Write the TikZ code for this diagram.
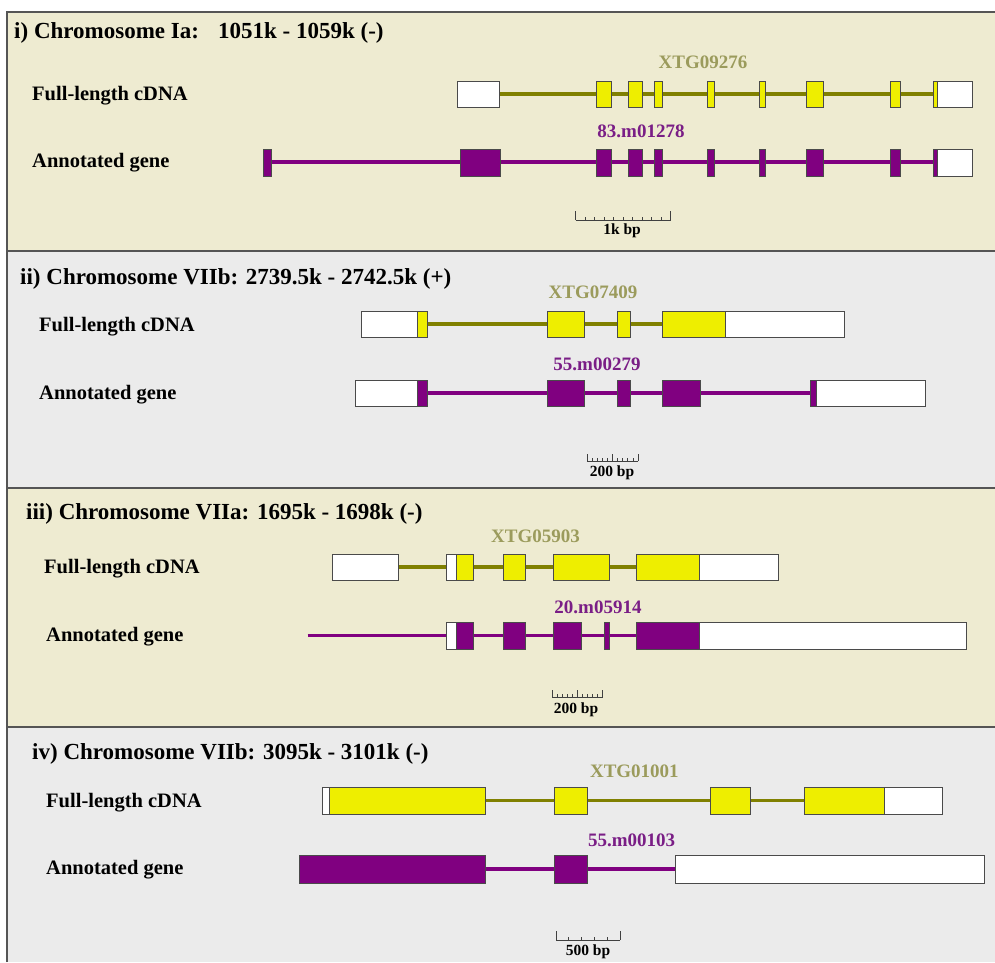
\documentclass[tikz,border=0pt]{standalone}
\usepackage{fontspec}
\setmainfont{Liberation Serif}
\usetikzlibrary{calc}
\definecolor{beigebg}{HTML}{EEEBD1}
\definecolor{graybg}{HTML}{EBEBEB}
\definecolor{exony}{HTML}{EEEE00}
\definecolor{exonp}{HTML}{800080}
\definecolor{olivel}{HTML}{808000}
\definecolor{purpl}{HTML}{800080}
\definecolor{olivetxt}{HTML}{9B9B5C}
\definecolor{purptxt}{HTML}{7A1E86}
\definecolor{framec}{HTML}{555555}
\definecolor{boxedge}{HTML}{4A4A4A}
\tikzset{
  title/.style={anchor=west,font=\bfseries\fontsize{23}{25}\selectfont,inner sep=0pt},
  rowlab/.style={anchor=west,font=\bfseries\fontsize{20.5}{23}\selectfont,inner sep=0pt},
  cdnaname/.style={font=\bfseries\fontsize{19}{21}\selectfont,text=olivetxt,inner sep=0pt},
  genename/.style={font=\bfseries\fontsize{19}{21}\selectfont,text=purptxt,inner sep=0pt},
  scalelab/.style={font=\bfseries\fontsize{15.5}{17}\selectfont,inner sep=0pt},
  cline/.style={draw=olivel,line width=3.4pt},
  aline/.style={draw=purpl,line width=3.4pt},
  yexon/.style={fill=exony,draw=boxedge,line width=0.9pt},
  pexon/.style={fill=exonp,draw=boxedge,line width=0.9pt},
  utr/.style={fill=white,draw=boxedge,line width=0.9pt},
  sbar/.style={draw=black!75,line width=0.8pt},
  divider/.style={draw=framec,line width=1.2pt}
}
\begin{document}
\begin{tikzpicture}[x=1pt,y=-1pt]
\useasboundingbox (0,0) rectangle (995,962);
% panels
\fill[beigebg] (7,12) rectangle (995,251);
\fill[graybg] (7,251) rectangle (995,488);
\fill[beigebg] (7,488) rectangle (995,727);
\fill[graybg] (7,727) rectangle (995,962);
\draw[divider] (7,962) -- (7,12) -- (995,12);
\draw[divider] (7,251) -- (995,251);
\draw[divider] (7,488) -- (995,488);
\draw[divider] (7,727) -- (995,727);

% ---------------- Panel i ----------------
\node[title] (t1) at (14,33) {i) Chromosome Ia:\hspace{0.5em} 1051k - 1059k (-)};
\node[rowlab] (c1lab) at (32,96) {Full-length cDNA};
\node[rowlab] (a1lab) at (32,163) {Annotated gene};
\node[cdnaname] (c1name) at (703,62) {XTG09276};
\node[genename] (a1name) at (641,131) {83.m01278};
\coordinate (c1s) at (499.6,94); \coordinate (c1e) at (937,94);
\draw[cline] (c1s) -- (c1e);
\draw[utr] (457.5,81) rectangle (499.6,107);
\foreach \a/\b in {596.8/611.9,628.4/642.4,654/662.7,707.3/714.6,759.2/765.5,806.9/823,890.7/900.5,933.9/937.4}
  \draw[yexon] (\a,81) rectangle (\b,107);
\draw[utr] (937.4,81) rectangle (972,107);
\coordinate (a1s) at (267,162); \coordinate (a1e) at (937,162);
\draw[aline] (a1s) -- (a1e);
\foreach \a/\b in {263/271,460/500,596.8/611.9,628.4/642.4,654/662.7,707.3/714.6,759.2/765.5,806.9/823,890.7/900.5,933.9/937.4}
  \draw[pexon] (\a,149) rectangle (\b,176);
\draw[utr] (937.4,149) rectangle (972,176);
% scale bar i
\coordinate (s1a) at (575.5,220); \coordinate (s1b) at (670.5,220);
\draw[sbar] (s1a) -- (s1b);
\draw[sbar] (s1a) -- ++(0,-9);
\draw[sbar] (s1b) -- ++(0,-9);
\foreach \i in {1,...,9} \draw[sbar] ($(s1a)!\i/10!(s1b)$) -- ++(0,-3);
\node[scalelab] (s1l) at (622,231) {1k bp};

% ---------------- Panel ii ----------------
\node[title] (t2) at (20,279) {ii) Chromosome VIIb: 2739.5k - 2742.5k (+)};
\node[rowlab] (c2lab) at (39,327) {Full-length cDNA};
\node[rowlab] (a2lab) at (39,395) {Annotated gene};
\node[cdnaname] (c2name) at (593,292) {XTG07409};
\node[genename] (a2name) at (597,364) {55.m00279};
\coordinate (c2s) at (427,324); \coordinate (c2e) at (663,324);
\draw[cline] (c2s) -- (c2e);
\draw[utr] (361.8,311) rectangle (417.7,337);
\foreach \a/\b in {417.7/427.3,547.4/584.9,617.8/630.9,662.6/725.4}
  \draw[yexon] (\a,311) rectangle (\b,337);
\draw[utr] (725.4,311) rectangle (844.4,337);
\coordinate (a2s) at (427,393); \coordinate (a2e) at (811,393);
\draw[aline] (a2s) -- (a2e);
\draw[utr] (355.3,380) rectangle (417.7,406);
\foreach \a/\b in {417.7/427.3,547.4/584.9,617.8/630.9,662.6/700.1,810/816.5}
  \draw[pexon] (\a,380) rectangle (\b,406);
\draw[utr] (816.5,380) rectangle (925.5,406);
% scale bar ii
\coordinate (s2a) at (587,461); \coordinate (s2b) at (638,461);
\draw[sbar] (s2a) -- (s2b);
\draw[sbar] (s2a) -- ++(0,-7);
\draw[sbar] (s2b) -- ++(0,-7);
\draw[sbar] ($(s2a)!0.5!(s2b)$) -- ++(0,-7);
\foreach \i in {1,2,3,4,6,7,8,9} \draw[sbar] ($(s2a)!\i/10!(s2b)$) -- ++(0,-3.5);
\node[scalelab] (s2l) at (612,473) {200 bp};

% ---------------- Panel iii ----------------
\node[title] (t3) at (26,514) {iii) Chromosome VIIa: 1695k - 1698k (-)};
\node[rowlab] (c3lab) at (44,569) {Full-length cDNA};
\node[rowlab] (a3lab) at (46,637) {Annotated gene};
\node[cdnaname] (c3name) at (535.5,536) {XTG05903};
\node[genename] (a3name) at (598,607) {20.m05914};
\coordinate (c3s) at (398,567); \coordinate (c3e) at (637,567);
\draw[cline] (c3s) -- (c3e);
\draw[utr] (332.7,554) rectangle (398.3,580);
\draw[utr] (446.7,554) rectangle (456.8,580);
\foreach \a/\b in {456.8/473.5,503.9/525.4,553.6/609.5,636.3/699.2}
  \draw[yexon] (\a,554) rectangle (\b,580);
\draw[utr] (699.2,554) rectangle (778.9,580);
\coordinate (a3s) at (307.6,635.5); \coordinate (a3e) at (637,635.5);
\draw[aline] (a3s) -- (a3e);
\draw[utr] (446.7,622) rectangle (456.8,649);
\foreach \a/\b in {456.8/473.5,503.9/525.4,553.6/581.3,604.2/609.5,636.3/699.2}
  \draw[pexon] (\a,622) rectangle (\b,649);
\draw[utr] (699.2,622) rectangle (966.8,649);
% scale bar iii
\coordinate (s3a) at (552.3,697); \coordinate (s3b) at (602.7,697);
\draw[sbar] (s3a) -- (s3b);
\draw[sbar] (s3a) -- ++(0,-7);
\draw[sbar] (s3b) -- ++(0,-7);
\draw[sbar] ($(s3a)!0.5!(s3b)$) -- ++(0,-7);
\foreach \i in {1,2,3,4,6,7,8,9} \draw[sbar] ($(s3a)!\i/10!(s3b)$) -- ++(0,-3.5);
\node[scalelab] (s3l) at (576,710) {200 bp};

% ---------------- Panel iv ----------------
\node[title] (t4) at (32,754) {iv) Chromosome VIIb: 3095k - 3101k (-)};
\node[rowlab] (c4lab) at (46,803) {Full-length cDNA};
\node[rowlab] (a4lab) at (46,870) {Annotated gene};
\node[cdnaname] (c4name) at (634.4,771) {XTG01001};
\node[genename] (a4name) at (631.7,840) {55.m00103};
\coordinate (c4s) at (485,800.5); \coordinate (c4e) at (805,800.5);
\draw[cline] (c4s) -- (c4e);
\draw[utr] (322.8,787) rectangle (329.6,814);
\foreach \a/\b in {329.6/485.6,554.4/587.2,710.9/750.9,804.8/884.9}
  \draw[yexon] (\a,787) rectangle (\b,814);
\draw[utr] (884.9,787) rectangle (942.9,814);
\coordinate (a4s) at (485,869); \coordinate (a4e) at (676,869);
\draw[aline] (a4s) -- (a4e);
\foreach \a/\b in {299.9/485.6,554.4/587.2}
  \draw[pexon] (\a,855) rectangle (\b,883);
\draw[utr] (675.3,855) rectangle (984.7,883);
% scale bar iv
\coordinate (s4a) at (556,940); \coordinate (s4b) at (620,940);
\draw[sbar] (s4a) -- (s4b);
\draw[sbar] (s4a) -- ++(0,-9);
\draw[sbar] (s4b) -- ++(0,-9);
\foreach \i in {1,...,4} \draw[sbar] ($(s4a)!\i/5!(s4b)$) -- ++(0,-3);
\node[scalelab] (s4l) at (588,952) {500 bp};
\end{tikzpicture}
\end{document}
